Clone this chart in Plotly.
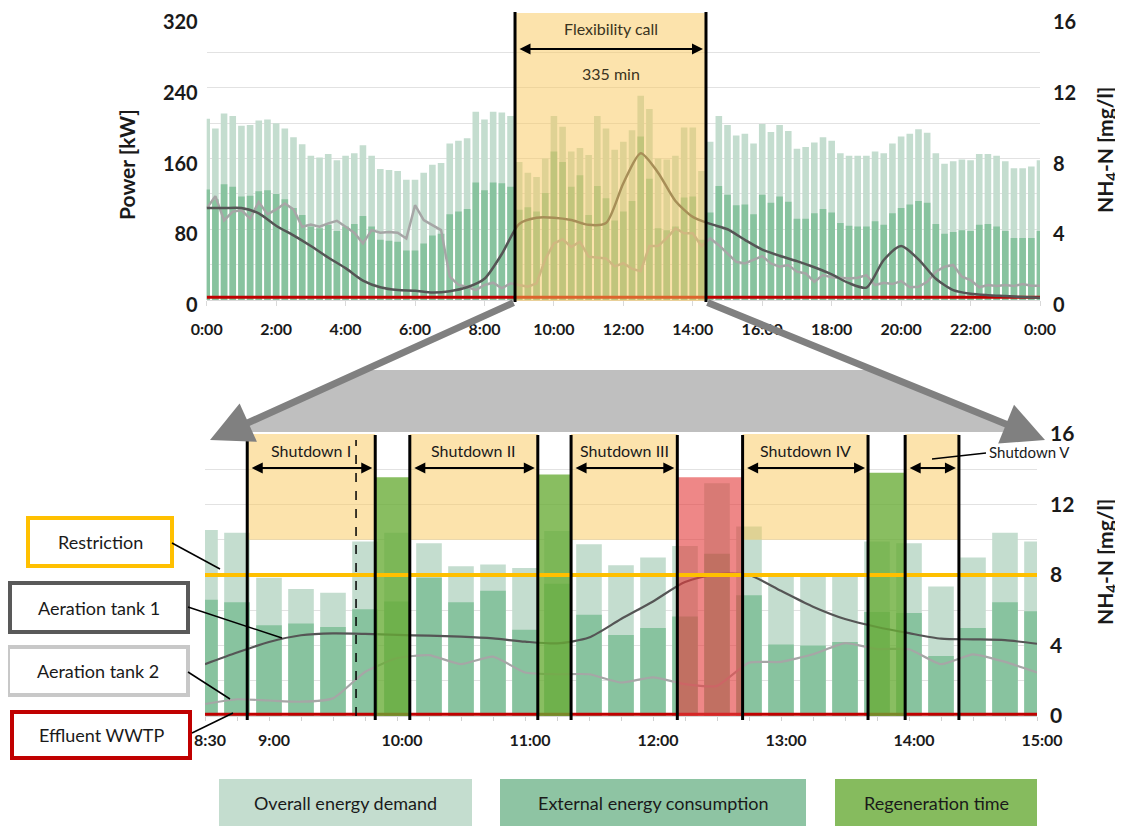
import plotly.graph_objects as go

W, H = 1123, 826
OFF = 8  # page body margin compensation (pixels)
FW, FH = W - OFF, H - OFF

# ---------------- data: 24 h overview (15-min bars, hours) ----------------
hours_top = [i / 4 for i in range(97)]
overall_top = [205, 194, 211, 208, 197, 198, 203, 204, 200, 194, 184, 176, 163, 161, 165, 158,
               163, 166, 175, 163, 148, 147, 146, 136, 136, 144, 153, 155, 177, 180, 183, 213,
               204, 213, 212, 208,
               156, 144, 139, 160, 208, 196, 168, 172, 164, 208, 194, 170, 179, 192, 231, 216,
               160, 159, 163, 195, 195, 146,
               179, 208, 198, 186, 188, 177, 199, 190, 198, 191, 171, 173, 178, 184, 180, 166,
               163, 163, 163, 168, 166, 177, 185, 188, 193, 189, 166, 154, 157, 159, 158, 165,
               165, 163, 157, 149, 149, 151, 158]
external_top = [125, 114, 131, 128, 117, 118, 123, 124, 120, 114, 104, 96, 83, 81, 85, 78,
                83, 86, 95, 83, 68, 67, 66, 56, 56, 64, 73, 75, 97, 100, 103, 133,
                124, 133, 132, 128,
                102, 105, 100, 121, 168, 156, 128, 141, 96, 129, 115, 90, 100, 112, 185, 137,
                81, 79, 83, 116, 117, 68,
                99, 129, 119, 107, 108, 97, 119, 110, 117, 111, 92, 92, 98, 103, 99, 87,
                84, 83, 83, 89, 85, 98, 104, 108, 112, 110, 86, 75, 77, 79, 78, 85,
                86, 83, 78, 70, 70, 70, 78]
tank1_hours_top = [i / 2 for i in range(49)]
tank1_top = [5.2, 5.2, 5.2, 4.9, 4.2, 3.65, 3.05, 2.4, 1.8, 1.1, 0.72, 0.56, 0.53, 0.43, 0.5, 0.72,
             1.2, 2.6, 4.3, 4.65, 4.65, 4.52, 4.25, 4.35, 6.6, 8.3, 7.2, 5.6, 4.7, 4.3, 4.0, 3.4,
             2.85, 2.5, 2.2, 1.85, 1.45, 0.95, 0.7, 2.26, 3.05, 2.3, 1.2, 0.56, 0.35, 0.27, 0.22,
             0.17, 0.13]
tank2_top = [5.18, 5.87, 4.5, 5.0, 5.08, 4.6, 5.55, 4.84, 5.12, 5.46, 5.12, 4.14, 4.27, 4.14, 4.33,
             4.48, 4.14, 3.8, 3.2, 3.95, 3.8, 3.84, 3.8, 3.48, 5.36, 4.52, 4.23, 3.95, 1.32, 0.85,
             0.75, 0.56, 0.85, 0.98, 0.66, 0.94,
             0.85, 0.75, 0.94, 2.3, 3.2, 3.43, 3.0, 3.3, 2.45, 2.38, 2.35, 1.9, 2.08, 1.76, 1.63,
             3.05, 3.05, 3.5, 4.05, 3.77, 3.77, 3.05,
             3.48, 3.1, 2.63, 2.16, 2.07, 2.26, 2.48, 2.07, 1.88, 1.98, 1.6, 1.5, 1.03, 1.41, 1.28,
             1.26, 1.22, 1.26, 1.41, 0.85, 0.98, 0.9, 1.07, 0.72, 0.75, 1.03, 1.6, 1.88, 1.98,
             1.32, 1.13, 0.72, 0.85, 0.79, 0.85, 0.79, 0.9, 0.81, 0.81]
effluent_hours_top = list(range(25))
effluent_top = [0.15, 0.15, 0.15, 0.15, 0.15, 0.15, 0.15, 0.15, 0.15, 0.15, 0.15, 0.15, 0.15,
                0.15, 0.15, 0.15, 0.15, 0.15, 0.15, 0.15, 0.15, 0.15, 0.15, 0.15, 0.15]
top_tickvals = [0, 2, 4, 6, 8, 10, 12, 14, 16, 18, 20, 22, 24]
top_ticktext = ["0:00", "2:00", "4:00", "6:00", "8:00", "10:00", "12:00", "14:00", "16:00",
                "18:00", "20:00", "22:00", "0:00"]
flex_start, flex_end = 8.88, 14.38

# ---------------- data: zoom 8:30 - 15:00 ----------------
hours_bottom = [8.5 + j / 4 for j in range(27)]
overall_bottom = [211, 208, 157, 144, 140, 198, 208, 196, 170, 172, 168, 210, 195, 171, 180,
                  193, 264, 215, 161, 160, 161, 198, 196, 147, 180, 208, 198]
external_bottom = [132, 129, 103, 105, 101, 121, 130, 157, 129, 142, 98, 150, 115, 92, 100,
                   113, 184, 137, 81, 80, 84, 118, 117, 68, 100, 129, 119]
tank1_bottom = [2.94, 3.6, 4.2, 4.58, 4.69, 4.66, 4.6, 4.56, 4.5, 4.4, 4.22, 4.12, 4.45, 5.5,
                6.5, 7.6, 8.05, 8.0, 7.1, 6.2, 5.5, 5.05, 4.7, 4.39, 4.35, 4.3, 4.1]
tank2_bottom = [0.68, 0.95, 0.88, 0.81, 1.0, 2.5, 3.28, 3.45, 2.94, 3.37, 2.47, 2.37, 2.37, 1.9,
                2.19, 1.81, 1.71, 3.03, 3.07, 3.5, 4.13, 3.8, 3.79, 2.94, 3.5, 3.07, 2.47]
effluent_bottom = [0.1, 0.1, 0.1, 0.1, 0.1, 0.1, 0.1, 0.1, 0.1, 0.1, 0.1, 0.1, 0.1, 0.1,
                   0.1, 0.1, 0.1, 0.1, 0.1, 0.1, 0.1, 0.1, 0.1, 0.1, 0.1, 0.1, 0.1]
bottom_tick_labels = {8.5: "8:30", 9.0: "9:00", 10.0: "10:00", 11.0: "11:00", 12.0: "12:00",
                      13.0: "13:00", 14.0: "14:00", 15.0: "15:00"}
shutdown_start = [8.83, 10.10, 11.36, 12.70, 13.97]
shutdown_end = [9.83, 11.10, 12.19, 13.68, 14.39]
shutdown_names = ["Shutdown I", "Shutdown II", "Shutdown III", "Shutdown IV", "Shutdown V"]
shutdown_band = (10, 16)
regen_start = [9.83, 11.10, 13.68]
regen_end = [10.10, 11.36, 13.97]
regen_top = [13.55, 13.7, 13.8]
violation = (12.19, 12.70, 13.55)
restriction = 8.0
dashed_time = 9.68

# ---------------- styling ----------------
FONT = "Lato"
C_OVERALL = "#c4ddcf"
C_EXTERNAL = "#88c39f"
C_REGEN = "#86bb5e"
YELLOW = "rgba(250,200,90,0.5)"
GREEN_BAND = "rgba(104,172,52,0.78)"
RED_BAND = "rgba(228,62,62,0.62)"
T1, T2, EFF = "#555555", "#a6a6a6", "#c00000"


def px(x):
    return (x - OFF) / FW


def py(y):
    return 1 - (y - OFF) / FH


def txt(x, y, text, size, color="#1a1a1a", **kw):
    d = dict(x=x, y=y, xref="paper", yref="paper", text=text, showarrow=False,
             xanchor="center", yanchor="middle", font=dict(family=FONT, size=size, color=color))
    d.update(kw)
    return d


fig = go.Figure()

# top chart traces
fig.add_trace(go.Bar(x=hours_top, y=overall_top, width=0.19, marker=dict(color=C_OVERALL, line_width=0),
                     xaxis="x", yaxis="y"))
fig.add_trace(go.Bar(x=hours_top, y=external_top, width=0.19, marker=dict(color=C_EXTERNAL, line_width=0),
                     xaxis="x", yaxis="y"))
fig.add_trace(go.Scatter(x=effluent_hours_top, y=effluent_top, mode="lines", line=dict(color=EFF, width=3),
                         xaxis="x", yaxis="y2"))
fig.add_trace(go.Scatter(x=hours_top, y=tank2_top, mode="lines", line=dict(color=T2, width=2.5),
                         xaxis="x", yaxis="y2"))
fig.add_trace(go.Scatter(x=tank1_hours_top, y=tank1_top, mode="lines",
                         line=dict(color=T1, width=2.5, shape="spline", smoothing=0.7),
                         xaxis="x", yaxis="y2"))

# bottom chart traces
fig.add_trace(go.Bar(x=hours_bottom, y=overall_bottom, width=0.2, marker=dict(color=C_OVERALL, line_width=0),
                     xaxis="x2", yaxis="y3"))
fig.add_trace(go.Bar(x=hours_bottom, y=external_bottom, width=0.2, marker=dict(color=C_EXTERNAL, line_width=0),
                     xaxis="x2", yaxis="y3"))
fig.add_trace(go.Scatter(x=hours_bottom, y=effluent_bottom, mode="lines", line=dict(color=EFF, width=3),
                         xaxis="x2", yaxis="y4"))
fig.add_trace(go.Scatter(x=hours_bottom, y=tank2_bottom, mode="lines",
                         line=dict(color=T2, width=2.2, shape="spline", smoothing=0.5),
                         xaxis="x2", yaxis="y4"))
fig.add_trace(go.Scatter(x=hours_bottom, y=tank1_bottom, mode="lines",
                         line=dict(color=T1, width=2.2, shape="spline", smoothing=0.7),
                         xaxis="x2", yaxis="y4"))

shapes = []
annotations = []

# ---- top: flexibility call ----
shapes.append(dict(type="rect", xref="x", yref="paper", x0=flex_start, x1=flex_end,
                   y0=py(301), y1=py(13), fillcolor=YELLOW, line_width=0, layer="above"))
for t in (flex_start, flex_end):
    shapes.append(dict(type="line", xref="x", yref="paper", x0=t, x1=t, y0=py(302), y1=py(12),
                       line=dict(color="black", width=3), layer="above"))
mid = (flex_start + flex_end) / 2
annotations.append(txt(mid, py(28), "Flexibility call", 16, "#3a3320", xref="x"))
annotations.append(txt(mid, py(73), "335 min", 16, "#3a3320", xref="x"))
annotations.append(dict(x=flex_end, y=py(49), xref="x", yref="paper", ax=flex_start, ay=0,
                        axref="x", ayref="pixel", text="", showarrow=True, arrowside="end+start",
                        arrowhead=2, arrowsize=1.1, arrowwidth=2, arrowcolor="black", standoff=3,
                        startstandoff=3))

# ---- bottom: shutdown / regeneration / violation ----
for s, e in zip(shutdown_start, shutdown_end):
    shapes.append(dict(type="rect", xref="x2", yref="y4", x0=s, x1=e, y0=shutdown_band[0],
                       y1=shutdown_band[1], fillcolor=YELLOW, line_width=0, layer="above"))
for s, e, top in zip(regen_start, regen_end, regen_top):
    shapes.append(dict(type="rect", xref="x2", yref="y4", x0=s, x1=e, y0=0, y1=top,
                       fillcolor=GREEN_BAND, line_width=0, layer="above"))
shapes.append(dict(type="rect", xref="x2", yref="y4", x0=violation[0], x1=violation[1], y0=0,
                   y1=violation[2], fillcolor=RED_BAND, line_width=0, layer="above"))
shapes.append(dict(type="line", xref="x2", yref="y4", x0=8.5, x1=15, y0=restriction, y1=restriction,
                   line=dict(color="#ffc000", width=4), layer="above"))
shapes.append(dict(type="line", xref="x2", yref="paper", x0=dashed_time, x1=dashed_time,
                   y0=py(716), y1=py(440), line=dict(color="black", width=1.5, dash="dash"), layer="above"))
boundaries = sorted(set(shutdown_start + shutdown_end))
for t in boundaries:
    shapes.append(dict(type="line", xref="x2", yref="paper", x0=t, x1=t, y0=py(720), y1=py(435),
                       line=dict(color="black", width=3), layer="above"))

for s, e, name in zip(shutdown_start, shutdown_end, shutdown_names):
    annotations.append(dict(x=e, y=py(468), xref="x2", yref="paper", ax=s, ay=0, axref="x2",
                            ayref="pixel", text="", showarrow=True, arrowside="end+start",
                            arrowhead=2, arrowsize=1.1, arrowwidth=2, arrowcolor="black",
                            standoff=3, startstandoff=3))
    if name != "Shutdown V":
        annotations.append(txt((s + e) / 2, py(450), name, 16, xref="x2"))
annotations.append(txt(px(987), py(452), "Shutdown V", 15, xanchor="left"))
shapes.append(dict(type="line", xref="paper", yref="paper", x0=px(932), x1=px(986), y0=py(459),
                   y1=py(453), line=dict(color="black", width=1.5), layer="above"))

# ---- grey zoom band & arrows ----
shapes.append(dict(type="path", xref="paper", yref="paper",
                   path=f"M {px(365)},{py(370)} L {px(873)},{py(370)} L {px(1025)},{py(432)} "
                        f"L {px(228)},{py(432)} Z",
                   fillcolor="#bfbfbf", line_width=0, layer="above"))
annotations.append(dict(x=px(210), y=py(440), xref="paper", yref="paper", ax=305, ay=-138,
                        axref="pixel", ayref="pixel", text="", showarrow=True, arrowhead=2,
                        arrowsize=1.2, arrowwidth=7, arrowcolor="#808080"))
annotations.append(dict(x=px(1045), y=py(440), xref="paper", yref="paper", ax=-339, ay=-138,
                        axref="pixel", ayref="pixel", text="", showarrow=True, arrowhead=2,
                        arrowsize=1.2, arrowwidth=7, arrowcolor="#808080"))

# ---- left labels ----
labels = [("Restriction", "#ffc000", (28, 518, 172, 566), (172, 543, 220, 569)),
          ("Aeration tank 1", "#595959", (10, 583, 188, 632), (188, 607, 282, 638)),
          ("Aeration tank 2", "#c8c8c8", (8, 647, 188, 695), (188, 672, 230, 699)),
          ("Effluent WWTP", "#c00000", (12, 712, 190, 758), (192, 733, 233, 713))]
for text, col, (x0, y0, x1, y1), (lx0, ly0, lx1, ly1) in labels:
    shapes.append(dict(type="rect", xref="paper", yref="paper", x0=px(x0), x1=px(x1), y0=py(y1), y1=py(y0),
                       fillcolor="white", line=dict(color=col, width=4), layer="below"))
    shapes.append(dict(type="line", xref="paper", yref="paper", x0=px(lx0), x1=px(lx1), y0=py(ly0),
                       y1=py(ly1), line=dict(color="black", width=1.5), layer="above"))
    annotations.append(txt(px((x0 + x1) / 2), py((y0 + y1) / 2), text, 18))

# ---- legend boxes ----
legend = [("Overall energy demand", C_OVERALL, 219, 472),
          ("External energy consumption", "#8ec4a3", 500, 806),
          ("Regeneration time", C_REGEN, 835, 1037)]
for text, col, x0, x1 in legend:
    shapes.append(dict(type="rect", xref="paper", yref="paper", x0=px(x0), x1=px(x1), y0=py(826),
                       y1=py(779), fillcolor=col, line_width=0, layer="above"))
    annotations.append(txt(px((x0 + x1) / 2), py(803), text, 18))

# ---- axis titles ----
annotations.append(txt(px(126), py(165), "<b>Power [kW]</b>", 21, textangle=-90))
for yc in (150, 562):
    annotations.append(txt(px(1106), py(yc), "<b>NH<sub>4</sub>-N [mg/l]</b>", 21, textangle=-90))

tickfont = dict(family=FONT, size=20, color="#1a1a1a", weight="bold")
xtickfont = dict(family=FONT, size=16, color="#1a1a1a", weight="bold")

bottom_tickvals = hours_bottom
bottom_ticktext = [bottom_tick_labels.get(t, "") for t in hours_bottom]

fig.update_layout(
    width=FW, height=FH, template="none", showlegend=False, barmode="overlay",
    margin=dict(l=0, r=0, t=0, b=0), paper_bgcolor="white", plot_bgcolor="rgba(0,0,0,0)",
    xaxis=dict(domain=[px(206.7), px(1040)], range=[0, 24], anchor="y", tickvals=top_tickvals,
               ticktext=top_ticktext, tickfont=xtickfont, showgrid=False, zeroline=False,
               showline=True, linecolor="#d9d9d9", ticks="outside", ticklen=5, tickcolor="#d9d9d9",
               ticklabelstandoff=10),
    yaxis=dict(domain=[py(300), py(17)], range=[0, 320], anchor="x",
               tickvals=[0, 40, 80, 120, 160, 200, 240, 280, 320],
               ticktext=["0", "", "80", "", "160", "", "240", "", "320"], tickfont=tickfont,
               showgrid=True, gridcolor="#e2e2e2", gridwidth=1, zeroline=False, ticks="",
               ticklabelstandoff=8, ticklabeloverflow="allow", ticklabelshift=5),
    yaxis2=dict(overlaying="y", side="right", anchor="x", range=[0, 16], tickvals=[0, 4, 8, 12, 16],
                tickfont=tickfont, showgrid=False, zeroline=False, ticks="", ticklabelstandoff=12,
                ticklabeloverflow="allow", ticklabelshift=5),
    xaxis2=dict(domain=[px(205), px(1037)], range=[8.5, 15], anchor="y3", tickvals=bottom_tickvals,
                ticktext=bottom_ticktext, tickfont=xtickfont, showgrid=False, zeroline=False,
                showline=True, linecolor="#d9d9d9", ticks="outside", ticklen=4, tickcolor="#d0d0d0",
                ticklabelstandoff=6, ticklabeloverflow="allow", ticklabelshift=5),
    yaxis3=dict(domain=[py(716), py(434)], range=[0, 320], anchor="x2", visible=False),
    yaxis4=dict(overlaying="y3", side="right", anchor="x2", range=[0, 16],
                tickvals=[0, 2, 4, 6, 8, 10, 12, 14, 16],
                ticktext=["0", "", "4", "", "8", "", "12", "", "16"],
                tickfont=dict(family=FONT, size=21, color="#1a1a1a", weight="bold"),
                showgrid=True, gridcolor="#e2e2e2", zeroline=False, ticks="", ticklabelstandoff=12,
                ticklabeloverflow="allow"),
    shapes=shapes, annotations=annotations,
)

fig.write_html("out.html")
